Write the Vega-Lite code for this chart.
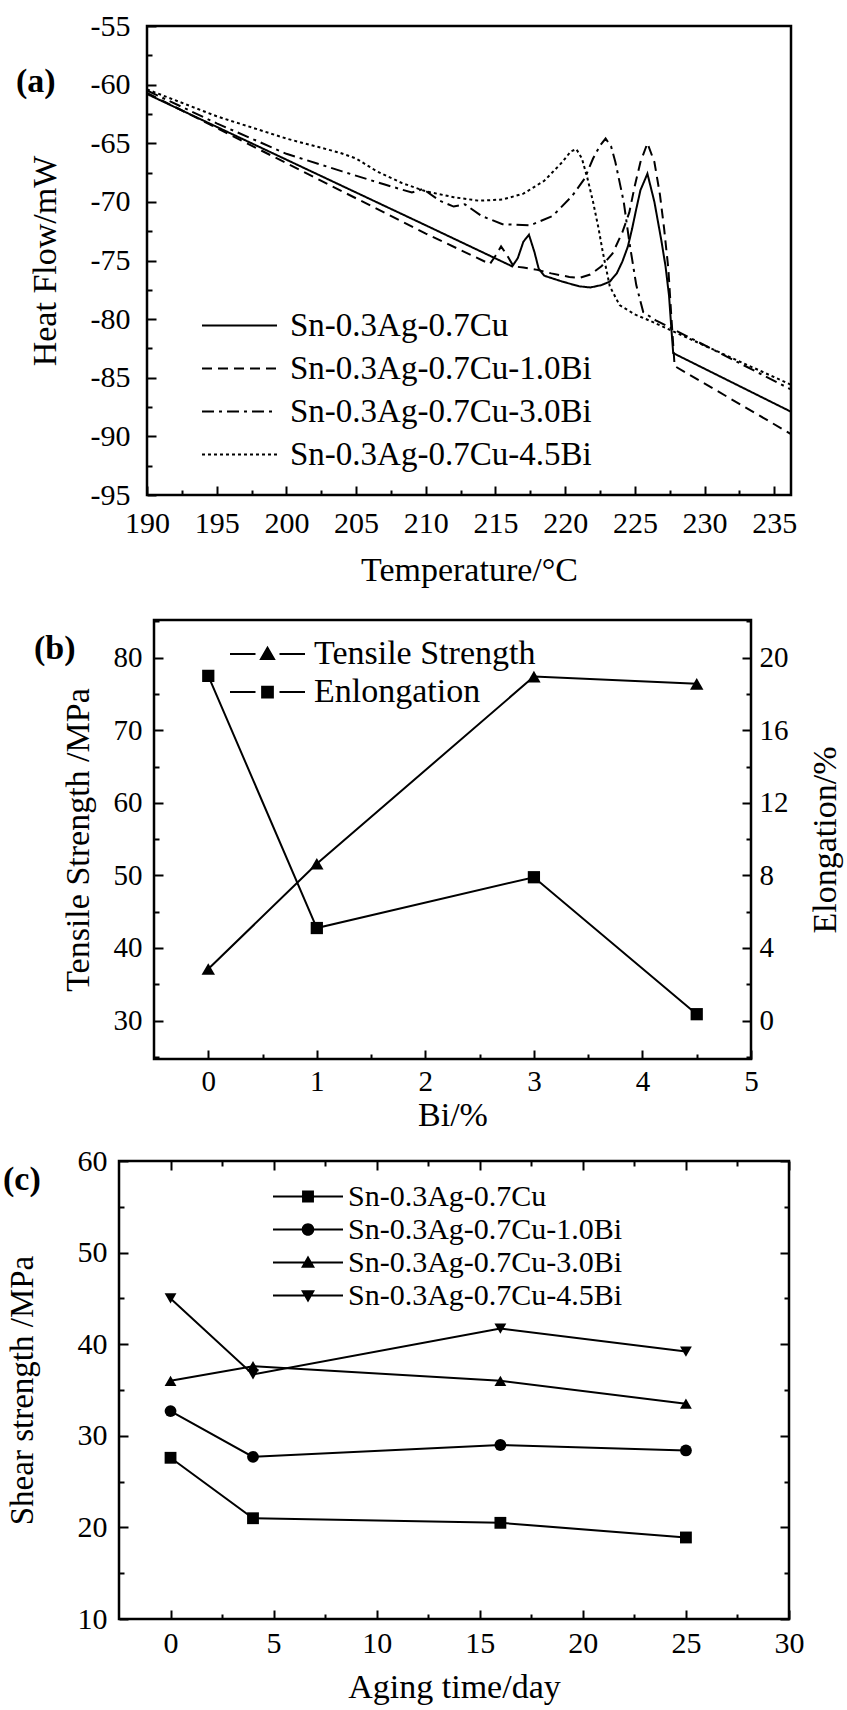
{
  "$schema": "https://vega.github.io/schema/vega-lite/v6.json",
  "background": "white",
  "padding": {"left": 0, "top": 9, "right": 0, "bottom": 0},
  "spacing": 10,
  "resolve": {"scale": {"shape": "independent", "strokeDash": "independent"}, "legend": {"shape": "independent", "strokeDash": "independent"}},
  "config": {
    "font": "Liberation Serif",
    "view": {"stroke": "black", "strokeWidth": 2.5},
    "axis": {"domain": false, "grid": false, "labelFont": "Liberation Serif", "titleFont": "Liberation Serif", "labelColor": "black", "titleColor": "black", "tickColor": "black", "tickWidth": 2, "titleFontWeight": "normal", "labelOverlap": false, "labelFlush": false},
    "legend": {"labelFont": "Liberation Serif", "labelColor": "black", "padding": 0, "rowPadding": 0, "labelLimit": 600, "title": null, "symbolStrokeWidth": 2, "symbolStrokeColor": "black", "symbolFillColor": "black", "symbolOpacity": 1},
    "title": {"font": "Liberation Serif", "fontWeight": "bold", "fontSize": 34, "color": "black"}
  },
  "datasets": {
    "dsc": [
      {"alloy": "Sn-0.3Ag-0.7Cu", "T": 190, "HF": -60.8}, {"alloy": "Sn-0.3Ag-0.7Cu", "T": 200, "HF": -66.4}, {"alloy": "Sn-0.3Ag-0.7Cu", "T": 210, "HF": -72.0}, {"alloy": "Sn-0.3Ag-0.7Cu", "T": 216.2, "HF": -75.5}, {"alloy": "Sn-0.3Ag-0.7Cu", "T": 216.6, "HF": -74.8}, {"alloy": "Sn-0.3Ag-0.7Cu", "T": 217.0, "HF": -73.4}, {"alloy": "Sn-0.3Ag-0.7Cu", "T": 217.4, "HF": -72.8}, {"alloy": "Sn-0.3Ag-0.7Cu", "T": 217.8, "HF": -74.3}, {"alloy": "Sn-0.3Ag-0.7Cu", "T": 218.1, "HF": -75.7}, {"alloy": "Sn-0.3Ag-0.7Cu", "T": 218.5, "HF": -76.3}, {"alloy": "Sn-0.3Ag-0.7Cu", "T": 219.8, "HF": -76.8}, {"alloy": "Sn-0.3Ag-0.7Cu", "T": 221.0, "HF": -77.2}, {"alloy": "Sn-0.3Ag-0.7Cu", "T": 221.8, "HF": -77.3}, {"alloy": "Sn-0.3Ag-0.7Cu", "T": 222.6, "HF": -77.1}, {"alloy": "Sn-0.3Ag-0.7Cu", "T": 223.2, "HF": -76.8}, {"alloy": "Sn-0.3Ag-0.7Cu", "T": 223.7, "HF": -76.1}, {"alloy": "Sn-0.3Ag-0.7Cu", "T": 224.1, "HF": -75.1}, {"alloy": "Sn-0.3Ag-0.7Cu", "T": 224.5, "HF": -73.8}, {"alloy": "Sn-0.3Ag-0.7Cu", "T": 224.8, "HF": -72.3}, {"alloy": "Sn-0.3Ag-0.7Cu", "T": 225.1, "HF": -70.6}, {"alloy": "Sn-0.3Ag-0.7Cu", "T": 225.4, "HF": -69.0}, {"alloy": "Sn-0.3Ag-0.7Cu", "T": 225.9, "HF": -67.6}, {"alloy": "Sn-0.3Ag-0.7Cu", "T": 226.4, "HF": -70.0}, {"alloy": "Sn-0.3Ag-0.7Cu", "T": 226.9, "HF": -73.3}, {"alloy": "Sn-0.3Ag-0.7Cu", "T": 227.2, "HF": -75.5}, {"alloy": "Sn-0.3Ag-0.7Cu", "T": 227.45, "HF": -78.0}, {"alloy": "Sn-0.3Ag-0.7Cu", "T": 227.6, "HF": -80.5}, {"alloy": "Sn-0.3Ag-0.7Cu", "T": 227.75, "HF": -82.9}, {"alloy": "Sn-0.3Ag-0.7Cu", "T": 236.2, "HF": -87.9},
      {"alloy": "Sn-0.3Ag-0.7Cu-1.0Bi", "T": 190, "HF": -60.7}, {"alloy": "Sn-0.3Ag-0.7Cu-1.0Bi", "T": 200, "HF": -66.7}, {"alloy": "Sn-0.3Ag-0.7Cu-1.0Bi", "T": 210, "HF": -72.7}, {"alloy": "Sn-0.3Ag-0.7Cu-1.0Bi", "T": 214.6, "HF": -75.3}, {"alloy": "Sn-0.3Ag-0.7Cu-1.0Bi", "T": 215.0, "HF": -74.6}, {"alloy": "Sn-0.3Ag-0.7Cu-1.0Bi", "T": 215.4, "HF": -73.8}, {"alloy": "Sn-0.3Ag-0.7Cu-1.0Bi", "T": 215.8, "HF": -74.5}, {"alloy": "Sn-0.3Ag-0.7Cu-1.0Bi", "T": 216.3, "HF": -75.5}, {"alloy": "Sn-0.3Ag-0.7Cu-1.0Bi", "T": 217.0, "HF": -75.6}, {"alloy": "Sn-0.3Ag-0.7Cu-1.0Bi", "T": 218.0, "HF": -75.8}, {"alloy": "Sn-0.3Ag-0.7Cu-1.0Bi", "T": 219.0, "HF": -76.1}, {"alloy": "Sn-0.3Ag-0.7Cu-1.0Bi", "T": 220.3, "HF": -76.4}, {"alloy": "Sn-0.3Ag-0.7Cu-1.0Bi", "T": 221.0, "HF": -76.5}, {"alloy": "Sn-0.3Ag-0.7Cu-1.0Bi", "T": 221.8, "HF": -76.2}, {"alloy": "Sn-0.3Ag-0.7Cu-1.0Bi", "T": 222.6, "HF": -75.5}, {"alloy": "Sn-0.3Ag-0.7Cu-1.0Bi", "T": 223.4, "HF": -74.4}, {"alloy": "Sn-0.3Ag-0.7Cu-1.0Bi", "T": 224.1, "HF": -72.6}, {"alloy": "Sn-0.3Ag-0.7Cu-1.0Bi", "T": 224.6, "HF": -70.9}, {"alloy": "Sn-0.3Ag-0.7Cu-1.0Bi", "T": 225.0, "HF": -68.6}, {"alloy": "Sn-0.3Ag-0.7Cu-1.0Bi", "T": 225.4, "HF": -66.6}, {"alloy": "Sn-0.3Ag-0.7Cu-1.0Bi", "T": 225.9, "HF": -65.0}, {"alloy": "Sn-0.3Ag-0.7Cu-1.0Bi", "T": 226.4, "HF": -66.6}, {"alloy": "Sn-0.3Ag-0.7Cu-1.0Bi", "T": 226.8, "HF": -69.4}, {"alloy": "Sn-0.3Ag-0.7Cu-1.0Bi", "T": 227.1, "HF": -72.3}, {"alloy": "Sn-0.3Ag-0.7Cu-1.0Bi", "T": 227.4, "HF": -75.7}, {"alloy": "Sn-0.3Ag-0.7Cu-1.0Bi", "T": 227.6, "HF": -79.5}, {"alloy": "Sn-0.3Ag-0.7Cu-1.0Bi", "T": 227.85, "HF": -84.0}, {"alloy": "Sn-0.3Ag-0.7Cu-1.0Bi", "T": 236.2, "HF": -89.8},
      {"alloy": "Sn-0.3Ag-0.7Cu-3.0Bi", "T": 190, "HF": -60.5}, {"alloy": "Sn-0.3Ag-0.7Cu-3.0Bi", "T": 195, "HF": -63.3}, {"alloy": "Sn-0.3Ag-0.7Cu-3.0Bi", "T": 200, "HF": -65.9}, {"alloy": "Sn-0.3Ag-0.7Cu-3.0Bi", "T": 204, "HF": -67.4}, {"alloy": "Sn-0.3Ag-0.7Cu-3.0Bi", "T": 207, "HF": -68.5}, {"alloy": "Sn-0.3Ag-0.7Cu-3.0Bi", "T": 209, "HF": -69.2}, {"alloy": "Sn-0.3Ag-0.7Cu-3.0Bi", "T": 209.8, "HF": -68.9}, {"alloy": "Sn-0.3Ag-0.7Cu-3.0Bi", "T": 211, "HF": -69.9}, {"alloy": "Sn-0.3Ag-0.7Cu-3.0Bi", "T": 212, "HF": -70.4}, {"alloy": "Sn-0.3Ag-0.7Cu-3.0Bi", "T": 212.8, "HF": -70.2}, {"alloy": "Sn-0.3Ag-0.7Cu-3.0Bi", "T": 214, "HF": -71.2}, {"alloy": "Sn-0.3Ag-0.7Cu-3.0Bi", "T": 215.5, "HF": -71.9}, {"alloy": "Sn-0.3Ag-0.7Cu-3.0Bi", "T": 217.5, "HF": -72.0}, {"alloy": "Sn-0.3Ag-0.7Cu-3.0Bi", "T": 219.1, "HF": -71.2}, {"alloy": "Sn-0.3Ag-0.7Cu-3.0Bi", "T": 220.5, "HF": -69.5}, {"alloy": "Sn-0.3Ag-0.7Cu-3.0Bi", "T": 221.4, "HF": -68.0}, {"alloy": "Sn-0.3Ag-0.7Cu-3.0Bi", "T": 222.0, "HF": -66.3}, {"alloy": "Sn-0.3Ag-0.7Cu-3.0Bi", "T": 222.5, "HF": -65.2}, {"alloy": "Sn-0.3Ag-0.7Cu-3.0Bi", "T": 222.9, "HF": -64.6}, {"alloy": "Sn-0.3Ag-0.7Cu-3.0Bi", "T": 223.3, "HF": -65.3}, {"alloy": "Sn-0.3Ag-0.7Cu-3.0Bi", "T": 223.6, "HF": -66.6}, {"alloy": "Sn-0.3Ag-0.7Cu-3.0Bi", "T": 224.2, "HF": -70.0}, {"alloy": "Sn-0.3Ag-0.7Cu-3.0Bi", "T": 224.6, "HF": -73.4}, {"alloy": "Sn-0.3Ag-0.7Cu-3.0Bi", "T": 225.1, "HF": -77.1}, {"alloy": "Sn-0.3Ag-0.7Cu-3.0Bi", "T": 225.6, "HF": -79.4}, {"alloy": "Sn-0.3Ag-0.7Cu-3.0Bi", "T": 226.5, "HF": -80.1}, {"alloy": "Sn-0.3Ag-0.7Cu-3.0Bi", "T": 236.2, "HF": -86.0},
      {"alloy": "Sn-0.3Ag-0.7Cu-4.5Bi", "T": 190, "HF": -60.4}, {"alloy": "Sn-0.3Ag-0.7Cu-4.5Bi", "T": 195, "HF": -62.7}, {"alloy": "Sn-0.3Ag-0.7Cu-4.5Bi", "T": 200, "HF": -64.6}, {"alloy": "Sn-0.3Ag-0.7Cu-4.5Bi", "T": 203.8, "HF": -65.8}, {"alloy": "Sn-0.3Ag-0.7Cu-4.5Bi", "T": 205.0, "HF": -66.3}, {"alloy": "Sn-0.3Ag-0.7Cu-4.5Bi", "T": 206.5, "HF": -67.4}, {"alloy": "Sn-0.3Ag-0.7Cu-4.5Bi", "T": 208.3, "HF": -68.4}, {"alloy": "Sn-0.3Ag-0.7Cu-4.5Bi", "T": 210, "HF": -69.1}, {"alloy": "Sn-0.3Ag-0.7Cu-4.5Bi", "T": 212, "HF": -69.6}, {"alloy": "Sn-0.3Ag-0.7Cu-4.5Bi", "T": 213.8, "HF": -69.9}, {"alloy": "Sn-0.3Ag-0.7Cu-4.5Bi", "T": 215.5, "HF": -69.8}, {"alloy": "Sn-0.3Ag-0.7Cu-4.5Bi", "T": 217, "HF": -69.3}, {"alloy": "Sn-0.3Ag-0.7Cu-4.5Bi", "T": 218.5, "HF": -68.2}, {"alloy": "Sn-0.3Ag-0.7Cu-4.5Bi", "T": 219.8, "HF": -66.6}, {"alloy": "Sn-0.3Ag-0.7Cu-4.5Bi", "T": 220.4, "HF": -65.7}, {"alloy": "Sn-0.3Ag-0.7Cu-4.5Bi", "T": 220.8, "HF": -65.5}, {"alloy": "Sn-0.3Ag-0.7Cu-4.5Bi", "T": 221.2, "HF": -66.3}, {"alloy": "Sn-0.3Ag-0.7Cu-4.5Bi", "T": 221.6, "HF": -68.0}, {"alloy": "Sn-0.3Ag-0.7Cu-4.5Bi", "T": 222.0, "HF": -70.0}, {"alloy": "Sn-0.3Ag-0.7Cu-4.5Bi", "T": 222.4, "HF": -72.3}, {"alloy": "Sn-0.3Ag-0.7Cu-4.5Bi", "T": 222.7, "HF": -74.3}, {"alloy": "Sn-0.3Ag-0.7Cu-4.5Bi", "T": 223.2, "HF": -77.2}, {"alloy": "Sn-0.3Ag-0.7Cu-4.5Bi", "T": 223.9, "HF": -78.8}, {"alloy": "Sn-0.3Ag-0.7Cu-4.5Bi", "T": 225.0, "HF": -79.6}, {"alloy": "Sn-0.3Ag-0.7Cu-4.5Bi", "T": 226, "HF": -80.1}, {"alloy": "Sn-0.3Ag-0.7Cu-4.5Bi", "T": 236.2, "HF": -85.6}
    ],
    "tensile": [
      {"Bi": 0, "series": "Tensile Strength", "value": 37.1}, {"Bi": 1, "series": "Tensile Strength", "value": 51.6}, {"Bi": 3, "series": "Tensile Strength", "value": 77.4}, {"Bi": 4.5, "series": "Tensile Strength", "value": 76.4},
      {"Bi": 0, "series": "Enlongation", "value": 19.0}, {"Bi": 1, "series": "Enlongation", "value": 5.1}, {"Bi": 3, "series": "Enlongation", "value": 7.9}, {"Bi": 4.5, "series": "Enlongation", "value": 0.35}
    ],
    "shear": [
      {"alloy": "Sn-0.3Ag-0.7Cu", "day": 0, "shear": 27.6}, {"alloy": "Sn-0.3Ag-0.7Cu", "day": 4, "shear": 21.0}, {"alloy": "Sn-0.3Ag-0.7Cu", "day": 16, "shear": 20.5}, {"alloy": "Sn-0.3Ag-0.7Cu", "day": 25, "shear": 18.9},
      {"alloy": "Sn-0.3Ag-0.7Cu-1.0Bi", "day": 0, "shear": 32.7}, {"alloy": "Sn-0.3Ag-0.7Cu-1.0Bi", "day": 4, "shear": 27.7}, {"alloy": "Sn-0.3Ag-0.7Cu-1.0Bi", "day": 16, "shear": 29.0}, {"alloy": "Sn-0.3Ag-0.7Cu-1.0Bi", "day": 25, "shear": 28.4},
      {"alloy": "Sn-0.3Ag-0.7Cu-3.0Bi", "day": 0, "shear": 36.0}, {"alloy": "Sn-0.3Ag-0.7Cu-3.0Bi", "day": 4, "shear": 37.6}, {"alloy": "Sn-0.3Ag-0.7Cu-3.0Bi", "day": 16, "shear": 36.0}, {"alloy": "Sn-0.3Ag-0.7Cu-3.0Bi", "day": 25, "shear": 33.5},
      {"alloy": "Sn-0.3Ag-0.7Cu-4.5Bi", "day": 0, "shear": 45.0}, {"alloy": "Sn-0.3Ag-0.7Cu-4.5Bi", "day": 4, "shear": 36.7}, {"alloy": "Sn-0.3Ag-0.7Cu-4.5Bi", "day": 16, "shear": 41.7}, {"alloy": "Sn-0.3Ag-0.7Cu-4.5Bi", "day": 25, "shear": 39.2}
    ]
  },
  "vconcat": [
    {
      "spacing": 0,
      "resolve": {"scale": {"shape": "independent", "strokeDash": "independent"}, "legend": {"shape": "independent", "strokeDash": "independent"}},
      "hconcat": [
        {"width": 14, "height": 570, "data": {"values": []}, "mark": "point", "view": {"stroke": null}},
        {
          "width": 644, "height": 469,
          "data": {"name": "dsc"},
          "title": {"text": "(a)", "orient": "top", "anchor": "start", "frame": "group", "offset": 0, "dx": -131, "dy": 88},
          "mark": {"type": "line", "color": "black", "strokeWidth": 2},
          "encoding": {
            "x": {"field": "T", "type": "quantitative", "scale": {"domain": [190, 236.2], "nice": false, "zero": false},
              "axis": {"title": "Temperature/°C", "values": [190, 192.5, 195, 197.5, 200, 202.5, 205, 207.5, 210, 212.5, 215, 217.5, 220, 222.5, 225, 227.5, 230, 232.5, 235],
                "labelExpr": "datum.value % 5 === 0 ? datum.label : ''",
                "tickSize": {"condition": {"test": "datum.value % 5 === 0", "value": -9}, "value": -5},
                "labelFontSize": 30, "labelPadding": 22, "titleFontSize": 34, "titlePadding": 11}},
            "y": {"field": "HF", "type": "quantitative", "scale": {"domain": [-95, -55], "nice": false, "zero": false},
              "axis": {"title": "Heat Flow/mW", "values": [-95, -92.5, -90, -87.5, -85, -82.5, -80, -77.5, -75, -72.5, -70, -67.5, -65, -62.5, -60, -57.5, -55],
                "labelExpr": "datum.value % 5 === 0 ? '-' + abs(datum.value) : ''",
                "tickSize": {"condition": {"test": "datum.value % 5 === 0", "value": -9}, "value": -5},
                "labelFontSize": 30, "labelPadding": 26, "titleFontSize": 34, "titlePadding": 28}},
            "strokeDash": {"field": "alloy", "type": "nominal",
              "scale": {"domain": ["Sn-0.3Ag-0.7Cu", "Sn-0.3Ag-0.7Cu-1.0Bi", "Sn-0.3Ag-0.7Cu-3.0Bi", "Sn-0.3Ag-0.7Cu-4.5Bi"], "range": [[1, 0], [10, 6], [12, 5, 3, 5], [3, 3]]},
              "legend": {"orient": "none", "legendX": 54, "legendY": 278, "symbolType": "stroke", "symbolSize": 5625, "labelFontSize": 33, "labelOffset": 12, "clipHeight": 43}}
          }
        }
      ]
    },
    {
      "spacing": 0,
      "resolve": {"scale": {"shape": "independent", "strokeDash": "independent"}, "legend": {"shape": "independent", "strokeDash": "independent"}},
      "hconcat": [
        {"width": 32, "height": 1, "data": {"values": []}, "mark": "point", "view": {"stroke": null}},
        {
          "width": 597, "height": 439,
          "data": {"name": "tensile"},
          "title": {"text": "(b)", "orient": "top", "anchor": "start", "frame": "group", "offset": 0, "dx": -120, "dy": 59},
          "encoding": {
            "x": {"field": "Bi", "type": "quantitative", "scale": {"domain": [-0.5, 5], "nice": false, "zero": false},
              "axis": {"title": "Bi/%", "values": [0, 0.5, 1, 1.5, 2, 2.5, 3, 3.5, 4, 4.5, 5],
                "labelExpr": "datum.value % 1 === 0 ? format(datum.value, 'd') : ''",
                "tickSize": {"condition": {"test": "datum.value % 1 === 0", "value": -9}, "value": -5},
                "labelFontSize": 29, "labelPadding": 17, "titleFontSize": 34, "titlePadding": -2}}
          },
          "layer": [
            {
              "transform": [{"filter": "datum.series === 'Tensile Strength'"}],
              "encoding": {
                "y": {"field": "value", "type": "quantitative", "scale": {"domain": [24.7, 85.2], "nice": false, "zero": false},
                  "axis": {"orient": "left", "title": "Tensile Strength /MPa", "values": [25, 30, 35, 40, 45, 50, 55, 60, 65, 70, 75, 80, 85],
                    "labelExpr": "datum.value % 10 === 0 ? datum.label : ''",
                    "tickSize": {"condition": {"test": "datum.value % 10 === 0", "value": -9}, "value": -5},
                    "labelFontSize": 29, "labelPadding": 21, "titleFontSize": 34, "titlePadding": 18}}
              },
              "layer": [
                {"mark": {"type": "line", "color": "black", "strokeWidth": 2}},
                {"mark": {"type": "point", "shape": "triangle-up", "filled": true, "color": "black", "opacity": 1, "size": 180}}
              ]
            },
            {
              "transform": [{"filter": "datum.series === 'Enlongation'"}],
              "encoding": {
                "y": {"field": "value", "type": "quantitative", "scale": {"domain": [-2.12, 22.08], "nice": false, "zero": false},
                  "axis": {"orient": "right", "title": "Elongation/%", "values": [-2, 0, 2, 4, 6, 8, 10, 12, 14, 16, 18, 20, 22],
                    "labelExpr": "datum.value % 4 === 0 ? datum.label : ''",
                    "tickSize": {"condition": {"test": "datum.value % 4 === 0", "value": -9}, "value": -5},
                    "labelFontSize": 29, "labelPadding": 17, "titleFontSize": 34, "titlePadding": 20, "titleAngle": 270, "titleBaseline": "top"}}
              },
              "layer": [
                {"mark": {"type": "line", "color": "black", "strokeWidth": 2}},
                {"mark": {"type": "point", "shape": "square", "filled": true, "color": "black", "opacity": 1, "size": 150}}
              ]
            },
            {
              "transform": [{"filter": "false"}],
              "mark": {"type": "point", "filled": true, "fill": "black", "stroke": "black", "strokeWidth": 2, "opacity": 1, "size": 5625},
              "encoding": {
                "shape": {"field": "series", "type": "nominal",
                  "scale": {"domain": ["Tensile Strength", "Enlongation"], "range": [
                    "M-1,-0.027H-0.32V0.027H-1ZM0.32,-0.027H1V0.027H0.32ZM0,-0.22L0.22,0.16L-0.22,0.16Z",
                    "M-1,-0.027H-0.32V0.027H-1ZM0.32,-0.027H1V0.027H0.32ZM-0.17,-0.17H0.17V0.17H-0.17Z"]},
                  "legend": {"orient": "none", "legendX": 75, "legendY": 15, "symbolSize": 5625, "labelFontSize": 34, "labelOffset": 8, "clipHeight": 38}}
              }
            }
          ],
          "resolve": {"scale": {"y": "independent"}}
        }
      ]
    },
    {
      "spacing": 0,
      "resolve": {"scale": {"shape": "independent", "strokeDash": "independent"}, "legend": {"shape": "independent", "strokeDash": "independent"}},
      "hconcat": [
        {"width": 1, "height": 1, "data": {"values": []}, "mark": "point", "view": {"stroke": null}},
        {
          "width": 670, "height": 458,
          "data": {"name": "shear"},
          "title": {"text": "(c)", "orient": "top", "anchor": "start", "frame": "group", "offset": 0, "dx": -116, "dy": 51},
          "layer": [
            {"mark": {"type": "line", "color": "black", "strokeWidth": 2},
              "encoding": {
                "x": {"field": "day", "type": "quantitative", "scale": {"domain": [-2.5, 30], "nice": false, "zero": false},
                  "axis": {"title": "Aging time/day", "values": [0, 2.5, 5, 7.5, 10, 12.5, 15, 17.5, 20, 22.5, 25, 27.5, 30],
                    "labelExpr": "datum.value % 5 === 0 ? datum.label : ''",
                    "tickSize": {"condition": {"test": "datum.value % 5 === 0", "value": -9}, "value": -5},
                    "labelFontSize": 30, "labelPadding": 18, "titleFontSize": 34, "titlePadding": 8}},
                "y": {"field": "shear", "type": "quantitative", "scale": {"domain": [10, 60], "nice": false, "zero": false},
                  "axis": {"title": "Shear strength /MPa", "values": [10, 15, 20, 25, 30, 35, 40, 45, 50, 55, 60],
                    "labelExpr": "datum.value % 10 === 0 ? datum.label : ''",
                    "tickSize": {"condition": {"test": "datum.value % 10 === 0", "value": -9}, "value": -5},
                    "labelFontSize": 30, "labelPadding": 21, "titleFontSize": 33, "titlePadding": 38}},
                "detail": {"field": "alloy", "type": "nominal"}
              }},
            {"mark": {"type": "point", "filled": true, "color": "black", "opacity": 1, "size": 140},
              "encoding": {
                "x": {"field": "day", "type": "quantitative", "scale": {"domain": [-2.5, 30], "nice": false, "zero": false},
                  "axis": {"orient": "top", "title": null, "labels": false, "values": [0, 2.5, 5, 7.5, 10, 12.5, 15, 17.5, 20, 22.5, 25, 27.5, 30],
                    "tickSize": {"condition": {"test": "datum.value % 5 === 0", "value": -9}, "value": -5}}},
                "y": {"field": "shear", "type": "quantitative", "scale": {"domain": [10, 60], "nice": false, "zero": false},
                  "axis": {"orient": "right", "title": null, "labels": false, "values": [10, 15, 20, 25, 30, 35, 40, 45, 50, 55, 60],
                    "tickSize": {"condition": {"test": "datum.value % 10 === 0", "value": -9}, "value": -5}}},
                "shape": {"field": "alloy", "type": "nominal",
                  "scale": {"domain": ["Sn-0.3Ag-0.7Cu", "Sn-0.3Ag-0.7Cu-1.0Bi", "Sn-0.3Ag-0.7Cu-3.0Bi", "Sn-0.3Ag-0.7Cu-4.5Bi"], "range": ["square", "circle", "triangle-up", "triangle-down"]},
                  "legend": null}
              }},
            {"transform": [{"filter": "false"}],
              "mark": {"type": "point", "filled": true, "fill": "black", "stroke": "black", "strokeWidth": 2, "opacity": 1, "size": 4900},
              "encoding": {
                "shape": {"field": "alloy", "type": "nominal",
                  "scale": {"domain": ["Sn-0.3Ag-0.7Cu", "Sn-0.3Ag-0.7Cu-1.0Bi", "Sn-0.3Ag-0.7Cu-3.0Bi", "Sn-0.3Ag-0.7Cu-4.5Bi"],
                    "range": [
                      "M-1,-0.029H1V0.029H-1ZM-0.17,-0.17H0.17V0.17H-0.17Z",
                      "M-1,-0.029H1V0.029H-1ZM0.18,0A0.18,0.18,0,1,1,-0.18,0A0.18,0.18,0,1,1,0.18,0Z",
                      "M-1,-0.029H1V0.029H-1ZM0,-0.2L0.2,0.15L-0.2,0.15Z",
                      "M-1,-0.029H1V0.029H-1ZM0,0.2L-0.2,-0.15L0.2,-0.15Z"]},
                  "legend": {"orient": "none", "legendX": 153, "legendY": 19, "symbolSize": 4900, "labelFontSize": 30, "labelOffset": 4, "clipHeight": 33}}
              }}
          ],
          "resolve": {"axis": {"x": "independent", "y": "independent"}, "scale": {"shape": "independent"}}
        }
      ]
    }
  ]
}
